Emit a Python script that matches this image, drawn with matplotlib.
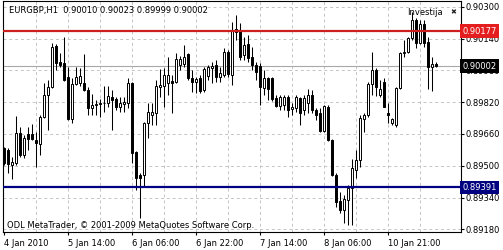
import matplotlib
matplotlib.use("Agg")
import matplotlib.pyplot as plt
import matplotlib.transforms as mtransforms

plt.rcParams['font.family'] = ['DejaVu Sans']

symbol_line = "EURGBP,H1  0.90010 0.90023 0.89999 0.90002"
copyright_text = "ODL MetaTrader, \u00a9 2001-2009 MetaQuotes Software Corp."
brand_text = "Investija"

opens = [0.89590, 0.89580, 0.89504, 0.89514, 0.89665, 0.89554, 0.89660, 0.89660, 0.89630, 0.89610,
         0.89746, 0.89856, 0.89896, 0.90103, 0.90022, 0.90017, 0.89947, 0.89735, 0.89912, 0.89917,
         0.89917, 0.89881, 0.89791, 0.89806, 0.89811, 0.89816, 0.89816, 0.89846, 0.89836, 0.89796,
         0.89811, 0.89816, 0.89917, 0.89569, 0.89454, 0.89454, 0.89715, 0.89756, 0.89766, 0.89896,
         0.89901, 0.89917, 0.89927, 0.89922, 0.90007, 0.90012, 0.90062, 0.89942, 0.89922, 0.89942,
         0.89881, 0.89952, 0.89992, 0.90007, 0.89947, 0.89957, 0.90072, 0.89957, 0.90188, 0.90183,
         0.90057, 0.90113, 0.90047, 0.90007, 0.90002, 0.89891, 0.89942, 0.89942, 0.89841, 0.89801,
         0.89806, 0.89846, 0.89786, 0.89791, 0.89841, 0.89781, 0.89816, 0.89856, 0.89781, 0.89766,
         0.89675, 0.89796, 0.89630, 0.89454, 0.89323, 0.89278, 0.89328, 0.89388, 0.89479, 0.89529,
         0.89735, 0.89756, 0.89912, 0.89982, 0.89856, 0.89922, 0.89766, 0.89715, 0.89705, 0.89891,
         0.90067, 0.90072, 0.90143, 0.90233, 0.90118, 0.90213, 0.90123, 0.89997, 0.90010]

highs = [0.89595, 0.89590, 0.89544, 0.89751, 0.89695, 0.89655, 0.89695, 0.89710, 0.89670, 0.89756,
         0.89917, 0.89932, 0.90118, 0.90113, 0.90067, 0.90148, 0.89997, 0.89942, 0.89997, 0.89992,
         0.90062, 0.89896, 0.89861, 0.89831, 0.89836, 0.89901, 0.89901, 0.89881, 0.89846, 0.89846,
         0.89846, 0.89942, 0.89922, 0.89572, 0.89464, 0.89720, 0.89816, 0.89816, 0.89932, 0.89987,
         0.89992, 0.90047, 0.89957, 0.90067, 0.90052, 0.90108, 0.90067, 0.89982, 0.89947, 0.89957,
         0.89997, 0.90007, 0.90022, 0.90032, 0.89997, 0.90093, 0.90083, 0.90223, 0.90259, 0.90218,
         0.90148, 0.90158, 0.90098, 0.90022, 0.90017, 0.89982, 0.89947, 0.89947, 0.89856, 0.89856,
         0.89856, 0.89856, 0.89816, 0.89856, 0.89846, 0.89856, 0.89886, 0.89881, 0.89791, 0.89791,
         0.89806, 0.89806, 0.89635, 0.89464, 0.89368, 0.89353, 0.89403, 0.89534, 0.89580, 0.89756,
         0.89766, 0.89922, 0.90072, 0.89992, 0.89932, 0.89942, 0.89816, 0.89741, 0.89896, 0.90072,
         0.90133, 0.90148, 0.90274, 0.90243, 0.90233, 0.90233, 0.90148, 0.90047, 0.90023]

lows = [0.89504, 0.89464, 0.89434, 0.89504, 0.89544, 0.89539, 0.89580, 0.89630, 0.89494, 0.89554,
        0.89741, 0.89680, 0.89891, 0.89982, 0.89997, 0.89927, 0.89730, 0.89715, 0.89906, 0.89901,
        0.89876, 0.89756, 0.89756, 0.89756, 0.89746, 0.89771, 0.89796, 0.89680, 0.89781, 0.89771,
        0.89771, 0.89791, 0.89514, 0.89378, 0.89237, 0.89393, 0.89640, 0.89705, 0.89705, 0.89846,
        0.89796, 0.89856, 0.89766, 0.89917, 0.89982, 0.89997, 0.89932, 0.89871, 0.89866, 0.89866,
        0.89871, 0.89932, 0.89917, 0.89922, 0.89922, 0.89947, 0.89947, 0.89906, 0.90133, 0.90032,
        0.90032, 0.90022, 0.89982, 0.89932, 0.89806, 0.89856, 0.89831, 0.89826, 0.89796, 0.89781,
        0.89781, 0.89746, 0.89756, 0.89771, 0.89705, 0.89756, 0.89766, 0.89766, 0.89730, 0.89670,
        0.89670, 0.89625, 0.89449, 0.89293, 0.89263, 0.89212, 0.89202, 0.89202, 0.89439, 0.89494,
        0.89670, 0.89746, 0.89856, 0.89851, 0.89846, 0.89796, 0.89715, 0.89705, 0.89695, 0.89886,
        0.90047, 0.90067, 0.90133, 0.90093, 0.90113, 0.90098, 0.89886, 0.89876, 0.89999]

closes = [0.89514, 0.89509, 0.89519, 0.89665, 0.89554, 0.89640, 0.89635, 0.89635, 0.89615, 0.89746,
          0.89856, 0.89896, 0.90098, 0.90017, 0.90007, 0.89932, 0.89735, 0.89912, 0.89947, 0.89952,
          0.89881, 0.89791, 0.89806, 0.89811, 0.89816, 0.89815, 0.89851, 0.89831, 0.89796, 0.89816,
          0.89821, 0.89917, 0.89564, 0.89439, 0.89439, 0.89715, 0.89771, 0.89771, 0.89901, 0.89906,
          0.89957, 0.89957, 0.89917, 0.90037, 0.90037, 0.90047, 0.89942, 0.89922, 0.89937, 0.89876,
          0.89987, 0.89997, 0.90002, 0.89947, 0.89967, 0.90072, 0.89962, 0.90183, 0.90173, 0.90047,
          0.90108, 0.90042, 0.90007, 0.89972, 0.89896, 0.89942, 0.89886, 0.89836, 0.89801, 0.89846,
          0.89846, 0.89781, 0.89796, 0.89846, 0.89766, 0.89841, 0.89856, 0.89781, 0.89756, 0.89675,
          0.89801, 0.89630, 0.89454, 0.89318, 0.89278, 0.89333, 0.89388, 0.89489, 0.89529, 0.89741,
          0.89756, 0.89912, 0.89982, 0.89896, 0.89886, 0.89796, 0.89756, 0.89735, 0.89891, 0.90067,
          0.90072, 0.90143, 0.90233, 0.90118, 0.90213, 0.90118, 0.89997, 0.90012, 0.90002]

price_ticks = [0.90300, 0.90140, 0.89980, 0.89820, 0.89660, 0.89500, 0.89340, 0.89180]
price_tick_labels = ["0.90300", "0.90140", "0.89980", "0.89820", "0.89660", "0.89500", "0.89340", "0.89180"]

time_tick_bars = [0, 16, 32, 48, 64, 80, 96]
time_tick_labels = ["4 Jan 2010", "5 Jan 14:00", "6 Jan 06:00", "6 Jan 22:00",
                    "7 Jan 14:00", "8 Jan 06:00", "10 Jan 21:00"]
grid_bars = [8, 16, 24, 32, 40, 48, 56, 64, 72, 80, 88, 96, 104]

resistance_level = 0.90177
support_level = 0.89391
bid_level = 0.90002

W, H = 503, 250
fig = plt.figure(figsize=(W / 100, H / 100), dpi=100)
fig.patch.set_facecolor('white')
ax = fig.add_axes([3 / W, (H - 232) / H, (461 - 3) / W, (232 - 1) / H])
ax.set_facecolor('white')

ax.set_xlim(-0.2, 114.3)
ax.set_ylim(0.89167, 0.90329)

# grid
for gb in grid_bars:
    ax.axvline(gb, color='#c4c4c4', lw=0.7, ls=(0, (3, 3)), zorder=0)
for pt in price_ticks:
    ax.axhline(pt, color='#c4c4c4', lw=0.7, ls=(0, (3, 3)), zorder=0)

# bid line
ax.axhline(bid_level, color='#a8a8a8', lw=0.8, zorder=1)

# candles
xs = list(range(len(opens)))
ax.vlines(xs, lows, highs, color='black', lw=0.75, zorder=2)
for i, (o, c) in enumerate(zip(opens, closes)):
    bottom = min(o, c)
    height = max(abs(c - o), 0.000006)
    face = 'white' if c >= o else 'black'
    ax.bar(i, height, bottom=bottom, width=0.58, color=face, edgecolor='black',
           lw=0.7, zorder=3)

# horizontal levels
ax.axhline(resistance_level, color='#cc1f1f', lw=1.6, zorder=4)
ax.axhline(support_level, color='#000080', lw=1.6, zorder=4)

# axes styling
for s in ax.spines.values():
    s.set_color('black')
    s.set_linewidth(0.8)
ax.yaxis.tick_right()
ax.set_yticks(price_ticks)
ax.set_yticklabels(price_tick_labels)
ax.tick_params(axis='y', direction='out', length=2, width=0.8, pad=1, labelsize=6, colors='black')
ax.set_xticks(time_tick_bars)
ax.set_xticklabels(time_tick_labels, ha='left')
ax.tick_params(axis='x', direction='out', length=2.5, width=0.8, pad=2.5, labelsize=6, colors='black')
for lbl in ax.get_xticklabels():
    lbl.set_horizontalalignment('left')

# price boxes on right scale
trans = mtransforms.blended_transform_factory(ax.transAxes, ax.transData)
box_x = 1.0 + 1.5 / 458
for level, fc in [(resistance_level, '#e41e1e'), (bid_level, 'black'), (support_level, '#000080')]:
    ax.text(box_x, level, f"{level:.5f}", transform=trans, ha='left', va='center',
            fontsize=6, color='white', clip_on=False, zorder=10,
            bbox=dict(boxstyle='square,pad=0.28', fc=fc, ec='none'))

# texts
ax.text(6 / 458, 1 - 9.5 / 231, symbol_line, transform=ax.transAxes, fontsize=6,
        ha='left', va='center', color='black', zorder=6)
ax.text(4 / 458, 1 - 224 / 231, copyright_text, transform=ax.transAxes, fontsize=6,
        ha='left', va='center', color='black', zorder=6)
ax.text(440 / 458, 1 - 11.5 / 231, brand_text, transform=ax.transAxes, fontsize=6,
        ha='right', va='center', color='black', zorder=6)
ax.text(450 / 458, 1 - 11.5 / 231, "\u2716", transform=ax.transAxes, fontsize=5,
        ha='center', va='center', color='#222222', zorder=6)

fig.savefig('out.png', dpi=100, facecolor='white')
